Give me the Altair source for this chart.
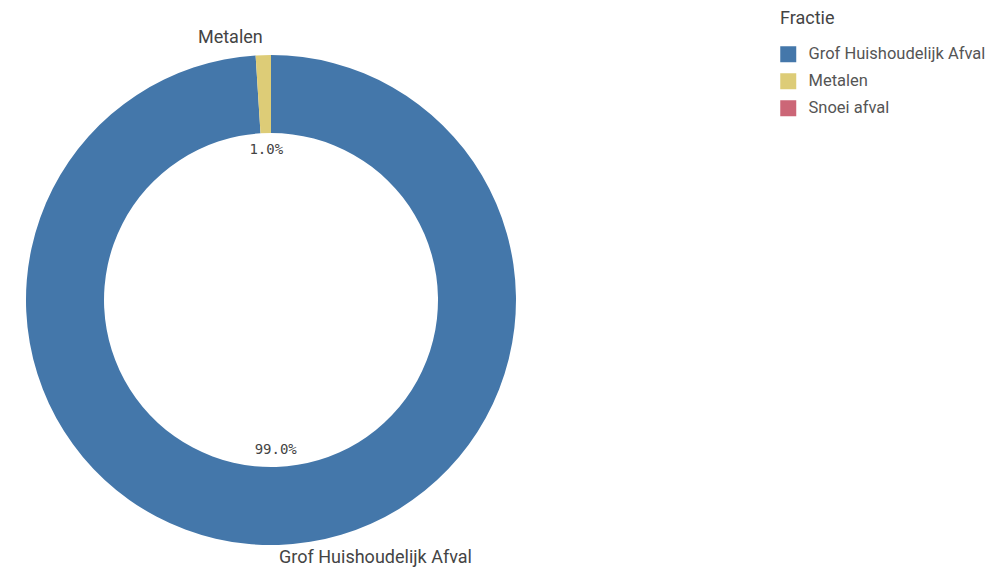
import altair as alt
import pandas as pd

categories = ["Grof Huishoudelijk Afval", "Metalen", "Snoei afval"]
values = [99.0, 1.0, 0.0]
pct_labels = ["99.0%", "1.0%", ""]
right_labels = ["Grof Huishoudelijk Afval", "", ""]
left_labels = ["", "Metalen", ""]
colors = ["#4477aa", "#ddcc77", "#cc6677"]

df = pd.DataFrame({
    "Fractie": categories,
    "value": values,
    "pct": pct_labels,
    "lab_r": right_labels,
    "lab_l": left_labels,
    "ord": list(range(len(categories))),
})

CX, CY = 263, 292

base = alt.Chart(df).encode(
    theta=alt.Theta("value:Q", stack=True),
    order=alt.Order("ord:Q"),
)

arc = base.mark_arc(outerRadius=245, innerRadius=167, x=CX, y=CY).encode(
    color=alt.Color(
        "Fractie:N",
        scale=alt.Scale(domain=categories, range=colors),
        sort=categories,
        legend=alt.Legend(
            title="Fractie", orient="none", legendX=772, legendY=2,
            titleFontSize=18, titleFont="Roboto", titleFontWeight="normal",
            titleColor="#444", labelFontSize=16.5, labelFont="Roboto",
            labelColor="#555", labelLimit=0, labelOffset=12,
            symbolType="square", symbolSize=256,
            symbolStrokeWidth=0, rowPadding=10, titlePadding=18,
        ),
    ),
)

inner = base.mark_text(radius=150, x=CX, y=CY, font="DejaVu Sans Mono",
                       fontSize=14, baseline="middle").encode(
    text="pct:N", color=alt.value("#444")
)

outer_right = base.mark_text(radius=258, x=CX, y=CY, font="Roboto", fontSize=18,
                             align="left", baseline="middle").encode(
    text="lab_r:N", color=alt.value("#444")
)

outer_left = base.mark_text(radius=262, x=CX, y=CY, font="Roboto", fontSize=18,
                            align="right", baseline="middle").encode(
    text="lab_l:N", color=alt.value("#444")
)

chart = alt.layer(arc, inner, outer_right, outer_left).properties(
    width=978, height=560, autosize=alt.AutoSizeParams(type="none"), padding=0
).configure_view(stroke=None)

chart.save("out.html", embed_options={"renderer": "svg", "actions": False})
